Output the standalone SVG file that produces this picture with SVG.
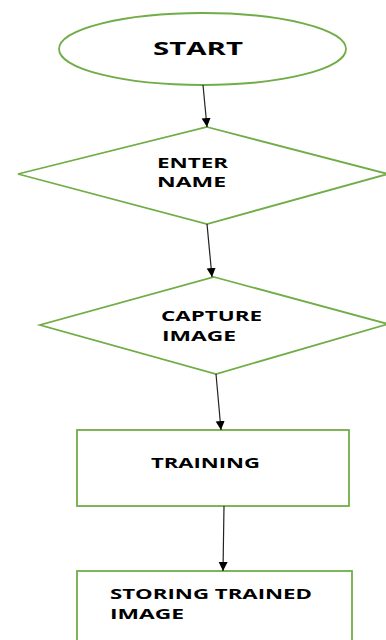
<svg xmlns="http://www.w3.org/2000/svg" width="386" height="640" viewBox="0 0 386 640">
<style>
.shape{fill:#ffffff;stroke:#70ad47;stroke-width:1.8}
.lbl{font-family:"Open Sans","Liberation Sans",sans-serif;font-weight:700;fill:#000000}
.conn{stroke:#222222;stroke-width:1.2;fill:none;marker-end:url(#arr)}
</style>
<defs>
<marker id="arr" viewBox="0 0 10 10" refX="10" refY="5" markerWidth="9" markerHeight="10" markerUnits="userSpaceOnUse" orient="auto">
<path d="M0,0 L10,5 L0,10 Z" fill="#000000"/>
</marker>
</defs>
<rect width="386" height="640" fill="#ffffff"/>
<g id="start">
<ellipse class="shape" cx="202.5" cy="49" rx="143.5" ry="36"/>
<text class="lbl" x="153" y="55" font-size="18" textLength="90" lengthAdjust="spacingAndGlyphs">START</text>
</g>
<g id="enter-name">
<polygon class="shape" points="207,127 388,174 207,224 18,174"/>
<text class="lbl" x="157" y="168" font-size="14" textLength="71" lengthAdjust="spacingAndGlyphs">ENTER</text>
<text class="lbl" x="157" y="187" font-size="14" textLength="69" lengthAdjust="spacingAndGlyphs">NAME</text>
</g>
<g id="capture-image">
<polygon class="shape" points="214,277 388,324 216,374 40,325"/>
<text class="lbl" x="161" y="321" font-size="14" textLength="101" lengthAdjust="spacingAndGlyphs">CAPTURE</text>
<text class="lbl" x="162" y="341" font-size="14" textLength="74" lengthAdjust="spacingAndGlyphs">IMAGE</text>
</g>
<g id="training">
<rect class="shape" x="77" y="430" width="272" height="76"/>
<text class="lbl" x="151" y="468" font-size="14" textLength="109" lengthAdjust="spacingAndGlyphs">TRAINING</text>
</g>
<g id="storing">
<rect class="shape" x="77" y="571" width="275" height="80"/>
<text class="lbl" x="110" y="599" font-size="14" textLength="202" lengthAdjust="spacingAndGlyphs">STORING TRAINED</text>
<text class="lbl" x="110" y="619" font-size="14" textLength="74" lengthAdjust="spacingAndGlyphs">IMAGE</text>
</g>
<g id="connectors">
<line class="conn" x1="203" y1="85" x2="207" y2="127"/>
<line class="conn" x1="207" y1="224" x2="212" y2="277"/>
<line class="conn" x1="216" y1="374" x2="221" y2="430"/>
<line class="conn" x1="224" y1="506" x2="223" y2="571"/>
</g>
</svg>
